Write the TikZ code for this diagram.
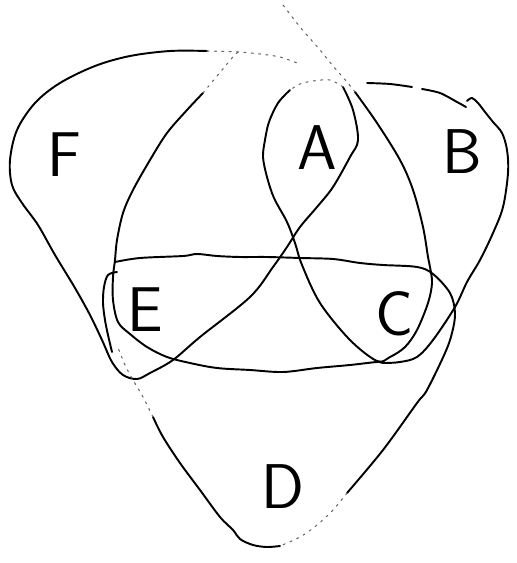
\documentclass[tikz,border=0pt]{standalone}
\usepackage{tikz}
\tikzset{every node/.style={font=\sffamily}}
\tikzset{
  pen/.style={line width=1.1pt, line cap=round, line join=round},
  faint/.style={line width=0.6pt, line cap=round, dash pattern=on 1.2pt off 3pt, black!60},
  letter/.style={font=\sffamily\fontsize{36}{36}\selectfont, inner sep=0pt},
}

\begin{document}
\begin{tikzpicture}[x=0.02cm, y=-0.02cm]
  \useasboundingbox (0,0) rectangle (516,563);

  % loop through F, A and C
  \draw[pen] plot[smooth, tension=0.55] coordinates {(207,51) (170,51) (130,56) (95,66) (60,83) (35,103) (17,130) (10,160) (12,185) (22,203) (38,225) (55,255) (75,288) (90,315) (102,340) (112,362) (123,375) (137,379) (150,373) (173,360) (200,337) (250,297) (273,267) (287,247) (300,227) (317,207) (333,187) (350,157) (358,140) (353,110) (343,87)};
  \draw[faint] plot[smooth] coordinates {(343,87) (330,80) (313,81) (300,84) (290,90)};
  \draw[pen] plot[smooth, tension=0.55] coordinates {(290,90) (278,103) (269,122) (265,140) (263,157) (267,177) (274,198) (287,222) (295,243) (302,265) (320,303) (350,340) (377,361) (390,357) (405,347) (417,330) (428,303) (432,283) (430,267) (428,257) (423,227) (413,190) (400,160) (377,123) (355,92)};
  \draw[faint] plot[smooth] coordinates {(355,92) (347,82) (333,66) (320,50) (300,27) (283,5)};
  \draw[faint] plot[smooth] coordinates {(207,51) (238,52) (260,54) (280,57) (297,63)};

  % loop through B, the lower band edge and up to the top
  \draw[pen] plot[smooth, tension=0.5] coordinates {(367,83) (390,84) (412,87)};
  \draw[pen] plot[smooth, tension=0.5] coordinates {(422,89) (440,93) (457,102) (466,107)};
  \draw[pen] plot[smooth, tension=0.55] coordinates {(467,101) (472,98) (478,103) (485,112) (493,122) (502,133) (507,150) (508,173) (503,207) (493,233) (480,260) (467,282) (455,307) (433,340) (417,357) (400,362) (383,363) (377,362) (350,365) (317,368) (283,372) (250,370) (217,368) (190,363) (167,357) (147,347) (130,334) (118,322) (113,300) (113,277) (115,260) (117,240) (123,213) (133,190) (150,160) (167,133) (187,110) (203,93)};
  \draw[faint] plot[smooth] coordinates {(203,93) (222,70) (232,58) (238,52)};

  % loop through the upper band edge, D and E
  \draw[pen] plot[smooth, tension=0.55] coordinates {(115,262) (140,258) (183,256) (197,254) (217,256) (240,257) (267,257) (300,258) (333,259) (360,263) (383,265) (417,267) (433,274) (450,293) (455,313) (452,333) (445,353) (427,390) (417,403) (383,450) (347,493)};
  \draw[faint] plot[smooth] coordinates {(347,493) (333,510) (317,525) (300,537) (280,546)};
  \draw[pen] plot[smooth, tension=0.55] coordinates {(280,546) (267,547) (253,545) (240,539) (233,530) (220,517) (200,490) (180,463) (163,437) (153,417)};
  \draw[faint] plot[smooth] coordinates {(153,417) (143,397) (133,380) (125,365) (117,345)};
  \draw[pen] plot[smooth, tension=0.55] coordinates {(117,272) (108,275) (104,287) (103,303) (105,320) (108,335) (112,352)};

  % labels
  \node[letter] (lF) at (64,155) {F};
  \node[letter] (lA) at (317,148) {A};
  \node[letter] (lB) at (462,152) {B};
  \node[letter] (lE) at (145,310) {E};
  \node[letter] (lC) at (394,314) {C};
  \node[letter] (lD) at (283,487) {D};
\end{tikzpicture}
\end{document}
